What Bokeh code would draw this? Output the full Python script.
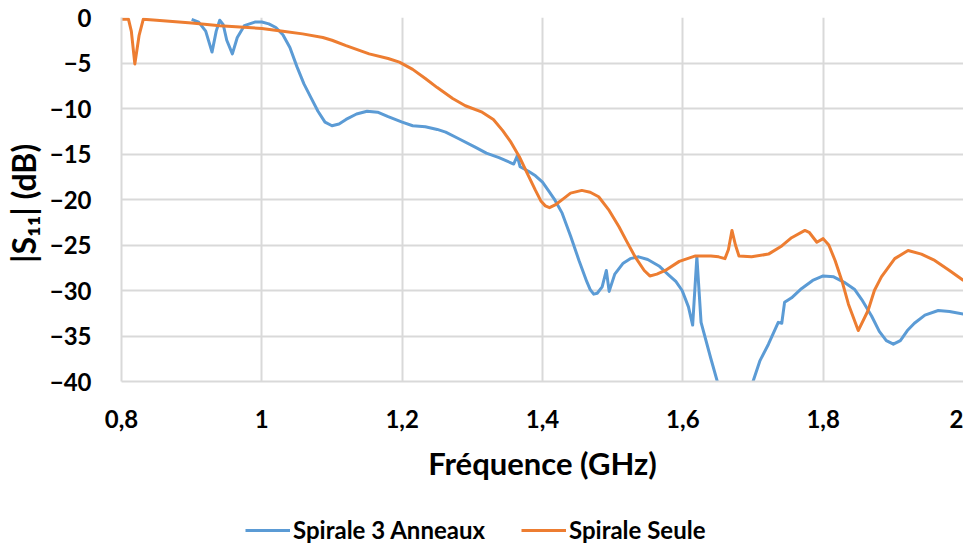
from bokeh.plotting import figure
from bokeh.layouts import column
from bokeh.models import Range1d, FixedTicker, Legend, LegendItem
from bokeh.embed import file_html
from bokeh.resources import INLINE

# ---- data ----
freq_anneaux = [0.90, 0.91, 0.92, 0.929, 0.935, 0.94, 0.945, 0.95, 0.958, 0.965, 0.975, 0.99,
                1.00, 1.01, 1.02, 1.03, 1.04, 1.05, 1.06, 1.07, 1.08, 1.09, 1.10, 1.11, 1.12, 1.135,
                1.15, 1.165, 1.18, 1.20, 1.215, 1.233, 1.25, 1.262, 1.28, 1.304, 1.32, 1.338,
                1.359, 1.364, 1.368, 1.38, 1.39, 1.40, 1.41, 1.418, 1.428, 1.44, 1.452, 1.463,
                1.468, 1.473, 1.478, 1.485, 1.491, 1.495, 1.503, 1.515, 1.525, 1.537, 1.55, 1.566, 1.58,
                1.59, 1.599, 1.608, 1.614, 1.62, 1.626, 1.64, 1.651, 1.665, 1.68, 1.695, 1.70,
                1.71, 1.722, 1.736, 1.741, 1.745, 1.755, 1.769, 1.785, 1.80, 1.815, 1.83, 1.845,
                1.855, 1.869, 1.88, 1.89, 1.90, 1.91, 1.92, 1.93, 1.945, 1.964, 1.98, 2.00]
s11_anneaux = [-0.2, -0.5, -1.5, -3.8, -1.5, -0.3, -0.8, -2.5, -4.0, -2.2, -0.9, -0.5,
               -0.5, -0.7, -1.1, -1.9, -3.3, -5.4, -7.3, -8.8, -10.3, -11.5, -11.9, -11.7, -11.2, -10.6,
               -10.3, -10.4, -10.9, -11.5, -11.9, -12.0, -12.3, -12.6, -13.3, -14.25, -14.9, -15.4,
               -16.1, -15.2, -16.4, -16.9, -17.4, -18.1, -19.2, -20.1, -21.5, -24.0, -26.7, -29.0,
               -29.9, -30.4, -30.3, -29.6, -27.8, -30.1, -28.2, -27.0, -26.5, -26.3, -26.6, -27.3, -28.3,
               -29.0, -30.0, -31.8, -33.8, -26.3, -33.5, -37.5, -40.5, -45.0, -47.0, -43.0, -40.0,
               -37.7, -35.9, -33.5, -33.6, -31.3, -30.8, -29.8, -28.9, -28.4, -28.5, -29.1, -29.9,
               -31.0, -32.8, -34.5, -35.5, -35.9, -35.5, -34.4, -33.6, -32.7, -32.2, -32.3, -32.6]

freq_seule = [0.80, 0.81, 0.814, 0.819, 0.825, 0.831, 0.85, 0.90, 0.94, 1.00, 1.03, 1.058,
              1.087, 1.10, 1.12, 1.153, 1.18, 1.196, 1.215, 1.233, 1.25, 1.272, 1.29, 1.314,
              1.33, 1.343, 1.355, 1.367, 1.38, 1.39, 1.398, 1.404, 1.41, 1.418, 1.43, 1.44, 1.456,
              1.468, 1.48, 1.495, 1.509, 1.52, 1.532, 1.545, 1.553, 1.563, 1.575, 1.595, 1.618, 1.64, 1.651,
              1.66, 1.665, 1.67, 1.675, 1.68, 1.698, 1.722, 1.741, 1.755, 1.774, 1.78, 1.791,
              1.80, 1.808, 1.817, 1.827, 1.836, 1.85, 1.864, 1.873, 1.883, 1.902, 1.921, 1.94,
              1.959, 1.98, 2.00]
s11_seule = [-0.2, -0.2, -1.5, -5.1, -2.0, -0.2, -0.3, -0.6, -0.9, -1.2, -1.5, -1.8,
             -2.2, -2.5, -3.1, -4.0, -4.5, -4.9, -5.7, -6.7, -7.7, -8.9, -9.7, -10.4,
             -11.2, -12.4, -13.7, -15.3, -17.4, -19.0, -20.2, -20.7, -20.9, -20.6, -19.9, -19.3, -19.0,
             -19.2, -19.7, -21.2, -23.0, -24.6, -26.3, -27.8, -28.4, -28.2, -27.8, -26.8, -26.2, -26.2, -26.3,
             -26.5, -25.5, -23.4, -25.0, -26.2, -26.3, -26.0, -25.1, -24.2, -23.4, -23.6, -24.7,
             -24.3, -25.0, -26.7, -29.0, -31.5, -34.4, -32.2, -30.0, -28.5, -26.5, -25.6, -26.0,
             -26.7, -27.8, -28.9]

x_ticks = [0.8, 1.0, 1.2, 1.4, 1.6, 1.8, 2.0]
x_tick_labels = ["0,8", "1", "1,2", "1,4", "1,6", "1,8", "2"]
y_ticks = [0, -5, -10, -15, -20, -25, -30, -35, -40]

series_names = ["Spirale 3 Anneaux", "Spirale Seule"]
BLUE = "#5B9BD5"
ORANGE = "#ED7D31"
FONT = "Lato"

W = 963
p = figure(width=W, height=490, output_backend="svg", toolbar_location=None,
           x_range=Range1d(0.8, 2.0), y_range=Range1d(-40, 0),
           min_border_left=110, min_border_right=0, min_border_top=17, min_border_bottom=109)
p.outline_line_color = None
p.background_fill_color = "white"
p.border_fill_color = "white"

r1 = p.line(freq_anneaux, s11_anneaux, line_color=BLUE, line_width=3, line_join="round")
r2 = p.line(freq_seule, s11_seule, line_color=ORANGE, line_width=3, line_join="round")

p.xaxis.ticker = FixedTicker(ticks=x_ticks)
p.xaxis.major_label_overrides = {t: l for t, l in zip(x_ticks, x_tick_labels)}
p.yaxis.ticker = FixedTicker(ticks=y_ticks)

for ax in (p.xaxis[0], p.yaxis[0]):
    ax.axis_line_color = "#d9d9d9"
    ax.axis_line_width = 2
    ax.major_tick_line_color = None
    ax.minor_tick_line_color = None
    ax.major_label_text_font = FONT
    ax.major_label_text_font_style = "bold"
    ax.major_label_text_font_size = "24px"
    ax.major_label_text_color = "#000000"
    ax.axis_label_text_font = FONT
    ax.axis_label_text_font_style = "bold"
    ax.axis_label_text_color = "#000000"

p.xaxis.axis_label_text_font_size = "31px"
p.yaxis.axis_label_text_font_size = "32px"
p.xaxis.axis_label = "Fréquence (GHz)"
p.yaxis.axis_label = "|S₁₁|  (dB)"
p.xaxis.major_label_standoff = 22
p.yaxis.major_label_standoff = 24
p.xaxis.axis_label_standoff = 13
p.yaxis.axis_label_standoff = 4

p.xgrid.ticker = FixedTicker(ticks=x_ticks)
p.ygrid.ticker = FixedTicker(ticks=y_ticks)
p.grid.grid_line_color = "#d9d9d9"
p.grid.grid_line_width = 2

# legend strip below the chart (swatch renderers carry no visible data)
nan = float("nan")
leg = figure(width=W, height=54, output_backend="svg", toolbar_location=None,
             x_axis_type=None, y_axis_type=None,
             x_range=Range1d(0, W), y_range=Range1d(0, 54),
             min_border_left=0, min_border_right=0, min_border_top=0, min_border_bottom=0)
leg.outline_line_color = None
leg.grid.visible = False
lr1 = leg.line(x=[nan, nan], y=[nan, nan], line_color=BLUE, line_width=3)
lr2 = leg.line(x=[nan, nan], y=[nan, nan], line_color=ORANGE, line_width=3)

legend = Legend(items=[LegendItem(label=series_names[0], renderers=[lr1]),
                       LegendItem(label=series_names[1], renderers=[lr2])],
                orientation="horizontal", location=(124, 0),
                label_text_font=FONT, label_text_font_style="bold",
                label_text_font_size="24px", label_text_color="#000000",
                glyph_width=45, glyph_height=24, spacing=36, padding=0,
                border_line_color=None, background_fill_alpha=0, margin=0,
                label_standoff=3)
leg.add_layout(legend)

layout = column(p, leg, spacing=0)
open("out.html", "w").write(file_html(layout, INLINE))
